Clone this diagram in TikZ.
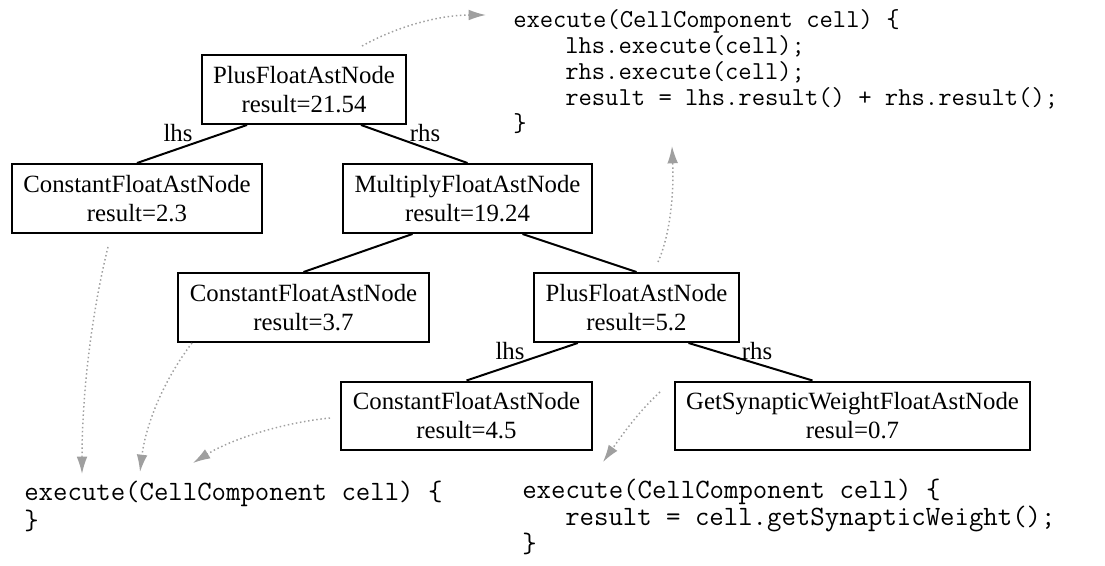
\documentclass[tikz,border=0pt]{standalone}
\usepackage{fontspec}
\setmainfont{Liberation Serif}
\usetikzlibrary{arrows.meta}
\begin{document}
\begin{tikzpicture}[x=0.75pt,y=-0.75pt,
  astbox/.style={draw, line width=1.5pt, align=center, inner xsep=8.6pt, inner ysep=8.4pt,
    font=\fontsize{18.6}{21.75}\selectfont},
  edgeline/.style={line width=1.5pt},
  lbl/.style={font=\fontsize{18.6}{22}\selectfont, inner sep=0pt},
  topcode/.style={font=\ttfamily\fontsize{19.4}{22}\selectfont, inner sep=0pt, anchor=base west},
  botcode/.style={font=\ttfamily\fontsize{21}{24}\selectfont, inner sep=0pt, anchor=base west},
  flow/.style={gray!75, dotted, line width=1.1pt, -{Latex[length=13pt,width=8pt]}}]
\useasboundingbox (0,0) rectangle (1105,566);

% tree nodes
\node[astbox] (p1) at (304,89.5) {PlusFloatAstNode\\result=21.54};
\node[astbox] (c1) at (137,198.5) {ConstantFloatAstNode\\result=2.3};
\node[astbox] (m)  at (467.5,198.5) {MultiplyFloatAstNode\\result=19.24};
\node[astbox] (c2) at (303.5,307.5) {ConstantFloatAstNode\\result=3.7};
\node[astbox] (p2) at (636.5,307.5) {PlusFloatAstNode\\result=5.2};
\node[astbox] (c3) at (466.5,416) {ConstantFloatAstNode\\result=4.5};
\node[astbox] (g)  at (852.5,416) {GetSynapticWeightFloatAstNode\\resul=0.7};

% edges
\draw[edgeline] ([xshift=-42.75pt]p1.south) -- (c1.north);
\draw[edgeline] ([xshift=42.75pt]p1.south) -- (m.north);
\draw[edgeline] ([xshift=-41.25pt]m.south) -- (c2.north);
\draw[edgeline] ([xshift=41.25pt]m.south) -- (p2.north);
\draw[edgeline] ([xshift=-44pt]p2.south) -- (c3.north);
\draw[edgeline] ([xshift=39pt]p2.south) -- ([xshift=-30pt]g.north);

% edge labels
\node[lbl] (l1) at (178,133) {lhs};
\node[lbl] (r1) at (425,133) {rhs};
\node[lbl] (l2) at (510,351) {lhs};
\node[lbl] (r2) at (757,351) {rhs};

% code blocks
\node[topcode] (t1) at (513,28) {execute(CellComponent cell) \{};
\node[topcode] (t2) at (565,54) {lhs.execute(cell);};
\node[topcode] (t3) at (565,80) {rhs.execute(cell);};
\node[topcode] (t4) at (565,106) {result = lhs.result() + rhs.result();};
\node[topcode] (t5) at (513,132) {\}};

\node[botcode] (bl1) at (24,500) {execute(CellComponent cell) \{};
\node[botcode] (bl2) at (24,529) {\}};

\node[botcode] (br1) at (522,498) {execute(CellComponent cell) \{};
\node[botcode] (br2) at (565,525) {result = cell.getSynapticWeight();};
\node[botcode] (br3) at (522,552) {\}};

% flow arrows
\coordinate (a1s) at (362,46);  \coordinate (a1e) at (486,15);
\coordinate (a2s) at (658,262); \coordinate (a2e) at (672,146);
\coordinate (a3s) at (108,247); \coordinate (a3e) at (82,474);
\coordinate (a4s) at (192,343); \coordinate (a4e) at (140,472);
\coordinate (a5s) at (330,418); \coordinate (a5e) at (193,463);
\coordinate (a6s) at (660,392); \coordinate (a6e) at (603,462);

\draw[flow] (a1s) .. controls (398,26) and (440,15) .. (a1e);
\draw[flow] (a2s) .. controls (670,235) and (674,195) .. (a2e);
\draw[flow] (a3s) .. controls (90,320) and (82,400) .. (a3e);
\draw[flow] (a4s) .. controls (160,385) and (145,430) .. (a4e);
\draw[flow] (a5s) .. controls (280,423) and (230,440) .. (a5e);
\draw[flow] (a6s) .. controls (638,412) and (620,438) .. (a6e);
\end{tikzpicture}
\end{document}
